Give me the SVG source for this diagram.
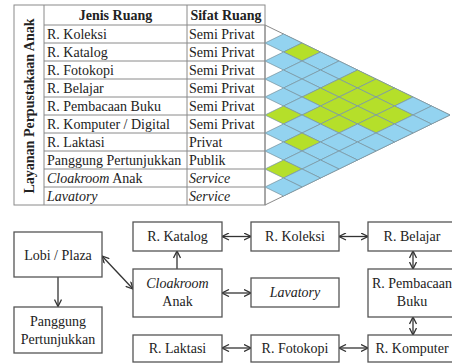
<svg xmlns="http://www.w3.org/2000/svg" xmlns:xlink="http://www.w3.org/1999/xlink" width="452" height="364" viewBox="0 0 452 364">
  <style>
    text { font-family: "Liberation Serif", "Tinos", "DejaVu Serif", serif; font-size: 14px; fill: #222; }
    .hd { font-weight: bold; }
    .it { font-style: italic; }
    .mid { text-anchor: middle; }
    .grid { fill: none; stroke: #8a8a8a; stroke-width: 1; }
    .b { fill: #93d3f0; stroke: #7b98a4; stroke-width: 0.8; }
    .g { fill: #b5df2a; stroke: #7b98a4; stroke-width: 0.8; }
    .box { fill: #fff; stroke: #555; stroke-width: 1.3; }
    .link { fill: none; stroke: #333; stroke-width: 1.3; }
  </style>
  <defs>
    <path id="cell" d="M-18.5 0 L0 -9 L18.5 0 L0 9 Z"/>
    <marker id="head" viewBox="0 0 8 8" markerWidth="8" markerHeight="8" refX="7.5" refY="4" orient="auto-start-reverse" markerUnits="userSpaceOnUse">
      <path d="M0.5 0.5 L7.5 4 L0.5 7.5" fill="none" stroke="#333" stroke-width="1.3"/>
    </marker>
  </defs>

  <!-- Room table -->
  <g id="table">
    <rect class="grid" x="14" y="5" width="251" height="200"/>
    <line class="grid" x1="44" y1="5" x2="44" y2="205"/>
    <line class="grid" x1="187" y1="5" x2="187" y2="205"/>
    <line class="grid" x1="44" y1="25" x2="265" y2="25"/>
    <line class="grid" x1="44" y1="43" x2="265" y2="43"/>
    <line class="grid" x1="44" y1="61" x2="265" y2="61"/>
    <line class="grid" x1="44" y1="79" x2="265" y2="79"/>
    <line class="grid" x1="44" y1="97" x2="265" y2="97"/>
    <line class="grid" x1="44" y1="115" x2="265" y2="115"/>
    <line class="grid" x1="44" y1="133" x2="265" y2="133"/>
    <line class="grid" x1="44" y1="151" x2="265" y2="151"/>
    <line class="grid" x1="44" y1="169" x2="265" y2="169"/>
    <line class="grid" x1="44" y1="187" x2="265" y2="187"/>

    <text class="hd mid" transform="translate(34 106) rotate(-90)">Layanan Perpustakaan Anak</text>
    <text class="hd mid" x="115.5" y="20">Jenis Ruang</text>
    <text class="hd mid" x="226" y="20">Sifat Ruang</text>

    <text x="47" y="39">R. Koleksi</text>
    <text x="47" y="57">R. Katalog</text>
    <text x="47" y="75">R. Fotokopi</text>
    <text x="47" y="93">R. Belajar</text>
    <text x="47" y="111">R. Pembacaan Buku</text>
    <text x="47" y="129">R. Komputer / Digital</text>
    <text x="47" y="147">R. Laktasi</text>
    <text x="47" y="165">Panggung Pertunjukkan</text>
    <text x="47" y="183"><tspan class="it">Cloakroom</tspan> Anak</text>
    <text x="47" y="201" class="it">Lavatory</text>

    <text x="189" y="39">Semi Privat</text>
    <text x="189" y="57">Semi Privat</text>
    <text x="189" y="75">Semi Privat</text>
    <text x="189" y="93">Semi Privat</text>
    <text x="189" y="111">Semi Privat</text>
    <text x="189" y="129">Semi Privat</text>
    <text x="189" y="147">Privat</text>
    <text x="189" y="165">Publik</text>
    <text x="189" y="183" class="it">Service</text>
    <text x="189" y="201" class="it">Service</text>
  </g>

  <!-- Relation matrix -->
  <g id="matrix">
    <polygon class="grid" points="265,25 450,115 265,205"/>
    <use href="#cell" class="b" x="283.5" y="43"/>
    <use href="#cell" class="g" x="302" y="52"/>
    <use href="#cell" class="b" x="320.5" y="61"/>
    <use href="#cell" class="b" x="339" y="70"/>
    <use href="#cell" class="g" x="357.5" y="79"/>
    <use href="#cell" class="g" x="376" y="88"/>
    <use href="#cell" class="g" x="394.5" y="97"/>
    <use href="#cell" class="b" x="413" y="106"/>
    <use href="#cell" class="b" x="431.5" y="115"/>

    <use href="#cell" class="b" x="283.5" y="61"/>
    <use href="#cell" class="b" x="302" y="70"/>
    <use href="#cell" class="b" x="320.5" y="79"/>
    <use href="#cell" class="g" x="339" y="88"/>
    <use href="#cell" class="g" x="357.5" y="97"/>
    <use href="#cell" class="g" x="376" y="106"/>
    <use href="#cell" class="g" x="394.5" y="115"/>
    <use href="#cell" class="b" x="413" y="124"/>

    <use href="#cell" class="b" x="283.5" y="79"/>
    <use href="#cell" class="b" x="302" y="88"/>
    <use href="#cell" class="g" x="320.5" y="97"/>
    <use href="#cell" class="g" x="339" y="106"/>
    <use href="#cell" class="g" x="357.5" y="115"/>
    <use href="#cell" class="g" x="376" y="124"/>
    <use href="#cell" class="b" x="394.5" y="133"/>

    <use href="#cell" class="b" x="283.5" y="97"/>
    <use href="#cell" class="b" x="302" y="106"/>
    <use href="#cell" class="g" x="320.5" y="115"/>
    <use href="#cell" class="g" x="339" y="124"/>
    <use href="#cell" class="b" x="357.5" y="133"/>
    <use href="#cell" class="b" x="376" y="142"/>

    <use href="#cell" class="g" x="283.5" y="115"/>
    <use href="#cell" class="b" x="302" y="124"/>
    <use href="#cell" class="b" x="320.5" y="133"/>
    <use href="#cell" class="b" x="339" y="142"/>
    <use href="#cell" class="b" x="357.5" y="151"/>

    <use href="#cell" class="b" x="283.5" y="133"/>
    <use href="#cell" class="g" x="302" y="142"/>
    <use href="#cell" class="b" x="320.5" y="151"/>
    <use href="#cell" class="b" x="339" y="160"/>

    <use href="#cell" class="b" x="283.5" y="151"/>
    <use href="#cell" class="b" x="302" y="160"/>
    <use href="#cell" class="b" x="320.5" y="169"/>

    <use href="#cell" class="g" x="283.5" y="169"/>
    <use href="#cell" class="b" x="302" y="178"/>

    <use href="#cell" class="b" x="283.5" y="187"/>
  </g>

  <!-- Bubble diagram connectors -->
  <g id="connectors">
    <line class="link" x1="58" y1="277" x2="58" y2="306.5" marker-end="url(#head)"/>
    <line class="link" x1="102" y1="256" x2="133" y2="289" marker-start="url(#head)" marker-end="url(#head)"/>
    <line class="link" x1="177" y1="269" x2="177" y2="251" marker-end="url(#head)"/>
    <line class="link" x1="222" y1="236.5" x2="251" y2="236.5" marker-start="url(#head)" marker-end="url(#head)"/>
    <line class="link" x1="339" y1="236.5" x2="368" y2="236.5" marker-start="url(#head)" marker-end="url(#head)"/>
    <line class="link" x1="413" y1="251" x2="413" y2="269" marker-start="url(#head)" marker-end="url(#head)"/>
    <line class="link" x1="413" y1="317" x2="413" y2="335" marker-start="url(#head)" marker-end="url(#head)"/>
    <line class="link" x1="222" y1="293" x2="251" y2="293" marker-start="url(#head)" marker-end="url(#head)"/>
    <line class="link" x1="222" y1="348" x2="251" y2="348" marker-start="url(#head)" marker-end="url(#head)"/>
    <line class="link" x1="339" y1="348" x2="368" y2="348" marker-start="url(#head)" marker-end="url(#head)"/>
  </g>

  <!-- Bubble diagram rooms -->
  <g id="lobi">
    <rect class="box" x="14" y="232" width="88" height="45"/>
    <text class="mid" x="58" y="259.5">Lobi / Plaza</text>
  </g>
  <g id="panggung">
    <rect class="box" x="14" y="307" width="88" height="46"/>
    <text class="mid" x="58" y="326">Panggung</text>
    <text class="mid" x="58" y="344">Pertunjukkan</text>
  </g>
  <g id="katalog">
    <rect class="box" x="133" y="222" width="89" height="29"/>
    <text class="mid" x="177.5" y="241">R. Katalog</text>
  </g>
  <g id="cloakroom">
    <rect class="box" x="133" y="269" width="89" height="48"/>
    <text class="mid it" x="177.5" y="288">Cloakroom</text>
    <text class="mid" x="177.5" y="306">Anak</text>
  </g>
  <g id="laktasi">
    <rect class="box" x="133" y="335" width="89" height="27"/>
    <text class="mid" x="177.5" y="353">R. Laktasi</text>
  </g>
  <g id="koleksi">
    <rect class="box" x="251" y="222" width="88" height="29"/>
    <text class="mid" x="295" y="241">R. Koleksi</text>
  </g>
  <g id="lavatory">
    <rect class="box" x="251" y="278" width="88" height="29"/>
    <text class="mid it" x="295" y="297">Lavatory</text>
  </g>
  <g id="fotokopi">
    <rect class="box" x="251" y="335" width="88" height="27"/>
    <text class="mid" x="295" y="353">R. Fotokopi</text>
  </g>
  <g id="belajar">
    <rect class="box" x="368" y="222" width="89" height="29"/>
    <text class="mid" x="412" y="241">R. Belajar</text>
  </g>
  <g id="pembacaan">
    <rect class="box" x="368" y="269" width="89" height="48"/>
    <text class="mid" x="412" y="288">R. Pembacaan</text>
    <text class="mid" x="412" y="306">Buku</text>
  </g>
  <g id="komputer">
    <rect class="box" x="368" y="335" width="89" height="27"/>
    <text class="mid" x="412" y="353">R. Komputer</text>
  </g>
</svg>
